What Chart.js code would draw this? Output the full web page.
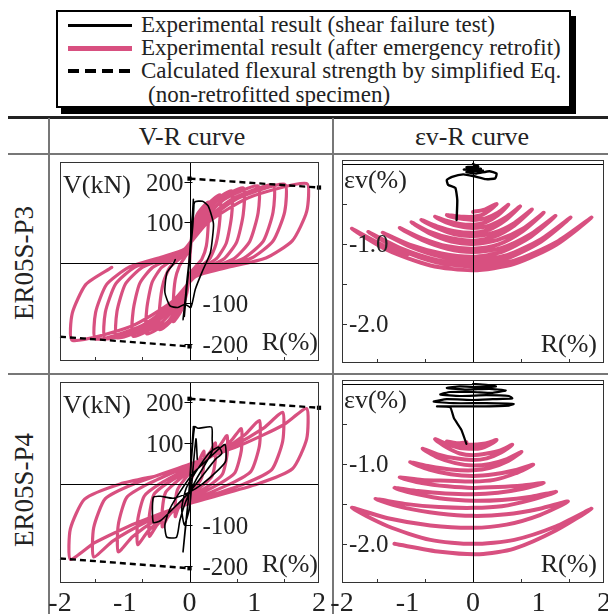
<!DOCTYPE html>
<html>
<head>
<meta charset="utf-8">
<script src="https://cdn.jsdelivr.net/npm/chart.js@4.4.1/dist/chart.umd.min.js"></script>
<style>
  body { margin: 0; background: #fff; }
  #fig { position: relative; width: 608px; height: 614px; overflow: hidden;
         font-family: "Liberation Serif", "Times New Roman", serif; color: #222; }
  .abs { position: absolute; }
  .legend-box { left: 56px; top: 10px; width: 515px; height: 98px; box-sizing: border-box;
                border: 2px solid #000; background: #fff; box-shadow: 5px 6px 0 #000; }
  .legend-text { font-size: 23px; line-height: 26px; white-space: nowrap; color: #222; }
  .hline { left: 8px; width: 600px; height: 1.5px; background: #777; }
  .vline { top: 118px; width: 1.5px; height: 496px; background: #777; }
  .head { font-size: 26px; line-height: 30px; white-space: nowrap; transform: translate(-50%, -50%); }
  .rowlab { font-size: 27px; line-height: 30px; white-space: nowrap;
            transform: translate(-50%, -50%) rotate(-90deg); }
  canvas { position: absolute; }
</style>
</head>
<body>
<div id="fig">
  <div class="abs legend-box"></div>
  <div class="abs" style="left:68px;top:24px;width:64px;height:3px;background:#000"></div>
  <div class="abs" style="left:68px;top:46px;width:64px;height:4.5px;background:#d85080"></div>
  <div class="abs" style="left:68px;top:69px;width:64px;height:4px;background:repeating-linear-gradient(to right,#000 0 11px,transparent 11px 17px)"></div>
  <div class="abs legend-text" style="left:141px;top:12px">Experimental result (shear failure test)</div>
  <div class="abs legend-text" style="left:141px;top:35px">Experimental result (after emergency retrofit)</div>
  <div class="abs legend-text" style="left:141px;top:58px">Calculated flexural strength by simplified Eq.</div>
  <div class="abs legend-text" style="left:148px;top:82px">(non-retrofitted specimen)</div>

  <div class="abs" style="left:8px;top:116px;width:600px;height:2.5px;background:#222"></div>
  <div class="abs hline" style="top:153px"></div>
  <div class="abs hline" style="top:373px"></div>
  <div class="abs vline" style="left:48px"></div>
  <div class="abs vline" style="left:332px"></div>

  <div class="abs head" style="left:192px;top:137px">V-R curve</div>
  <div class="abs head" style="left:472px;top:137px">εv-R curve</div>
  <div class="abs rowlab" style="left:24px;top:263px">ER05S-P3</div>
  <div class="abs rowlab" style="left:24px;top:490px">ER05S-P4</div>

  <canvas id="vrP3"></canvas>
  <canvas id="evP3"></canvas>
  <canvas id="vrP4"></canvas>
  <canvas id="evP4"></canvas>
</div>

<script>
// tick values and labels
const xTickLabels = [-2, -1, 0, 1, 2];
const xMinorTicks = [-1.46, -0.73, 0.73, 1.46];
const vTicks = [200, 100, -100, -200];
const evTicks = [-0.5, -1.0, -1.5, -2.0];
const evLabels = [-1.0, -2.0];

// calculated flexural strength (non-retrofitted), [R %, V kN]
const flexTopVR = [[0, 208], [2, 186]];
const flexBottomVR = [[-2, -182], [0, -206]];

// ER05S-P3, V-R: shear failure test
const p3ShearVR = [[0,0],[0.03,70],[0.06,157],[0.03,80],[-0.03,-40],[-0.08,-132],[-0.05,-60],[0.01,30],
  [0.07,150],[0.05,90],[-0.02,-30],[-0.10,-140],[-0.06,-80],[0.0,10],[0.04,110],[0.08,150],[0.2,152],
  [0.29,140],[0.37,97],[0.35,55],[0.32,24],[0.19,-24],[0.09,-65],[0.02,-110],[-0.07,-102],[-0.18,-110],
  [-0.3,-106],[-0.38,-73],[-0.35,-25],[-0.26,-5],[-0.22,8]];

// ER05S-P3, V-R: after emergency retrofit
const p3RetrofitVR = [
  [0,0],[0.04,75],[0.12,120],[0.29,150],
  [0.29,98],[0.26,42],[0.19,9],[0.09,-10],[0.01,-26],[-0.04,-73],[-0.13,-119],[-0.25,-145],
  [-0.25,-94],[-0.22,-41],[-0.16,-9],[-0.08,12],[-0.01,30],[0.07,84],[0.24,138],[0.47,168],
  [0.47,109],[0.41,47],[0.31,10],[0.14,-12],[0.02,-30],[-0.07,-83],[-0.23,-135],[-0.46,-165],
  [-0.46,-107],[-0.40,-46],[-0.30,-10],[-0.14,12],[-0.02,32],[0.10,89],[0.33,146],[0.65,178],
  [0.65,116],[0.57,50],[0.42,11],[0.20,-12],[0.03,-32],[-0.10,-88],[-0.33,-144],[-0.66,-175],
  [-0.66,-114],[-0.58,-49],[-0.43,-11],[-0.20,13],[-0.03,33],[0.12,93],[0.42,152],[0.83,185],
  [0.83,120],[0.73,52],[0.54,11],[0.25,-13],[0.04,-33],[-0.13,-91],[-0.44,-148],[-0.87,-181],
  [-0.87,-118],[-0.77,-51],[-0.57,-11],[-0.26,13],[-0.04,34],[0.16,95],[0.53,156],[1.06,190],
  [1.06,124],[0.93,53],[0.69,11],[0.32,-13],[0.05,-33],[-0.17,-93],[-0.56,-152],[-1.12,-185],
  [-1.12,-120],[-0.99,-52],[-0.73,-11],[-0.34,13],[-0.06,35],[0.19,96],[0.65,157],[1.29,192],
  [1.29,125],[1.14,54],[0.84,12],[0.39,-13],[0.06,-34],[-0.20,-94],[-0.65,-153],[-1.30,-187],
  [-1.30,-122],[-1.14,-52],[-0.85,-11],[-0.39,14],[-0.07,35],[0.22,97],[0.74,159],[1.47,194],
  [1.47,126],[1.29,54],[0.96,12],[0.44,-13],[0.07,-34],[-0.22,-94],[-0.73,-154],[-1.45,-188],
  [-1.45,-122],[-1.28,-53],[-0.94,-11],[-0.44,14],[-0.07,35],[0.27,98],[0.91,161],[1.81,196],
  [1.81,127],[1.59,55],[1.18,12],[0.54,-13],[0.09,-34],[-0.27,-96],[-0.91,-157],[-1.81,-191],
  [-1.81,-124],[-1.60,-53],[-1.20,-11]];

// ER05S-P4, V-R: shear failure test
const p4ShearVR = [[0,0],[0.03,70],[0.06,140],[0.03,60],[-0.03,-60],[-0.07,-120],[-0.10,-166],[-0.06,-100],
  [0,-10],[0.04,80],[0.08,140],[0.13,136],[0.34,139],[0.35,110],[0.35,80],[0.25,50],[0.1,10],[-0.05,-40],
  [-0.15,-90],[-0.2,-130],[-0.35,-130],[-0.38,-100],[-0.3,-60],[-0.15,-20],[0.05,25],[0.25,55],[0.45,85],
  [0.55,96],[0.56,56],[0.45,35],[0.2,0],[0,-20],[-0.25,-35],[-0.45,-30],[-0.56,-33],[-0.56,-94],[-0.45,-90],
  [-0.25,-60],[0,-20],[0.2,20],[0.4,60],[0.5,75],[0.45,90],[0.3,75],[0.1,30],[-0.05,-10],[-0.12,-60],
  [-0.08,-100],[0.0,-60],[0.05,30],[0.1,110],[0.12,60]];

// ER05S-P4, V-R: after emergency retrofit
const p4RetrofitVR = [
  [0,0],[0.1,40],[0.22,80],
  [0.22,48],[0.19,16],[0.13,0],[0,-21],[-0.10,-42],[-0.18,-62],[-0.22,-80],
  [-0.22,-48],[-0.19,-16],[-0.13,0],[0,26],[0.18,52],[0.32,78],[0.40,100],
  [0.40,60],[0.35,20],[0.23,0],[0,-27],[-0.19,-55],[-0.34,-82],[-0.42,-105],
  [-0.42,-63],[-0.37,-21],[-0.24,0],[0,31],[0.26,61],[0.46,92],[0.58,118],
  [0.58,71],[0.51,24],[0.34,0],[0,-33],[-0.28,-67],[-0.50,-100],[-0.62,-128],
  [-0.62,-77],[-0.55,-26],[-0.36,0],[0,35],[0.36,70],[0.64,105],[0.80,135],
  [0.80,81],[0.70,27],[0.46,0],[0,-38],[-0.36,-77],[-0.64,-115],[-0.80,-148],
  [-0.80,-89],[-0.70,-30],[-0.46,0],[0,40],[0.49,81],[0.86,121],[1.08,155],
  [1.08,93],[0.95,31],[0.63,0],[0,-43],[-0.50,-86],[-0.88,-129],[-1.10,-166],
  [-1.10,-100],[-0.97,-33],[-0.64,0],[0,46],[0.65,91],[1.15,137],[1.44,175],
  [1.44,105],[1.27,35],[0.84,0],[0,-46],[-0.67,-93],[-1.18,-139],[-1.48,-178],
  [-1.48,-107],[-1.30,-36],[-0.86,0],[0,48],[0.81,96],[1.45,144],[1.81,184],
  [1.81,110],[1.59,37],[1.05,0],[0,-48],[-0.83,-96],[-1.47,-144],[-1.84,-184],
  [-1.84,-110],[-1.62,-37],[-1.07,0],[-0.5,20]];

// ER05S-P3, εv-R: shear failure test
const p3ShearEv = [[0,0],[0.08,-0.03],[-0.1,-0.04],[0.12,-0.06],[-0.14,-0.07],[0.15,-0.08],[-0.1,-0.1],
  [0.05,-0.12],[0.25,-0.09],[0.36,-0.12],[0.34,-0.18],[0.2,-0.19],[0.0,-0.15],[-0.15,-0.13],[-0.32,-0.16],
  [-0.4,-0.2],[-0.38,-0.26],[-0.27,-0.3],[-0.24,-0.45],[-0.25,-0.7]];

// ER05S-P3, εv-R: after emergency retrofit
const p3RetrofitEv = [
  [0,-0.6],[0.18,-0.57],[0.36,-0.5],
  [0.25,-0.58],[0.13,-0.64],[0,-0.66],[-0.14,-0.66],[-0.28,-0.65],[-0.4,-0.64],
  [-0.28,-0.67],[-0.14,-0.69],[0,-0.7],[0.19,-0.68],[0.38,-0.61],[0.54,-0.51],
  [0.38,-0.64],[0.19,-0.73],[0,-0.76],[-0.2,-0.75],[-0.41,-0.71],[-0.58,-0.66],
  [-0.41,-0.73],[-0.2,-0.78],[0,-0.8],[0.25,-0.77],[0.5,-0.67],[0.72,-0.53],
  [0.5,-0.7],[0.25,-0.82],[0,-0.86],[-0.28,-0.84],[-0.55,-0.78],[-0.79,-0.7],
  [-0.55,-0.8],[-0.28,-0.88],[0,-0.9],[0.32,-0.86],[0.63,-0.74],[0.9,-0.57],
  [0.63,-0.77],[0.32,-0.91],[0,-0.96],[-0.33,-0.93],[-0.66,-0.85],[-0.94,-0.73],
  [-0.66,-0.87],[-0.33,-0.97],[0,-1.0],[0.38,-0.95],[0.76,-0.81],[1.08,-0.61],
  [0.76,-0.84],[0.38,-1.01],[0,-1.06],[-0.39,-1.03],[-0.78,-0.93],[-1.12,-0.8],
  [-0.78,-0.95],[-0.39,-1.06],[0,-1.1],[0.44,-1.05],[0.88,-0.88],[1.26,-0.65],
  [0.88,-0.91],[0.44,-1.1],[0,-1.16],[-0.48,-1.12],[-0.97,-1.01],[-1.38,-0.86],
  [-0.97,-1.03],[-0.48,-1.16],[0,-1.2],[0.52,-1.14],[1.04,-0.94],[1.49,-0.67],
  [1.04,-0.97],[0.52,-1.18],[0,-1.25],[-0.56,-1.2],[-1.12,-1.05],[-1.6,-0.85],
  [-1.12,-1.07],[-0.56,-1.23],[0,-1.28],[0.63,-1.21],[1.27,-0.98],[1.81,-0.67],
  [1.27,-1.01],[0.63,-1.25],[0,-1.33],[-0.65,-1.27],[-1.3,-1.08],[-1.85,-0.81],
  [-1.3,-1.05],[-1.0,-1.13]];

// ER05S-P4, εv-R: shear failure test
const p4ShearEv = [[0,0],[0.2,-0.01],[0.35,-0.03],[0.1,-0.04],[-0.2,-0.03],[-0.4,-0.05],[-0.1,-0.07],
  [0.25,-0.06],[0.5,-0.08],[0.3,-0.11],[0,-0.1],[-0.35,-0.1],[-0.5,-0.13],[-0.2,-0.15],[0.2,-0.14],
  [0.55,-0.15],[0.6,-0.18],[0.3,-0.19],[0,-0.2],[-0.4,-0.19],[-0.6,-0.22],[-0.3,-0.24],[0.2,-0.24],
  [0.62,-0.25],[0.55,-0.27],[0.1,-0.28],[-0.3,-0.28],[-0.55,-0.28],[-0.35,-0.29],[-0.29,-0.43],
  [-0.18,-0.57],[-0.1,-0.75]];

// ER05S-P4, εv-R: after emergency retrofit
const p4RetrofitEv = [
  [-0.1,-0.73],[-0.25,-0.74],[-0.4,-0.72],
  [-0.28,-0.74],[-0.14,-0.76],[0,-0.76],[0.13,-0.75],[0.25,-0.73],[0.36,-0.7],
  [0.25,-0.76],[0.13,-0.8],[0,-0.81],[-0.2,-0.8],[-0.41,-0.75],[-0.58,-0.69],
  [-0.41,-0.79],[-0.2,-0.87],[0,-0.89],[0.21,-0.87],[0.42,-0.83],[0.6,-0.76],
  [0.42,-0.86],[0.21,-0.93],[0,-0.95],[-0.27,-0.93],[-0.54,-0.88],[-0.77,-0.81],
  [-0.54,-0.92],[-0.27,-0.99],[0,-1.02],[0.26,-1.0],[0.52,-0.94],[0.74,-0.85],
  [0.52,-0.97],[0.26,-1.05],[0,-1.08],[-0.34,-1.07],[-0.67,-1.03],[-0.96,-0.98],
  [-0.67,-1.07],[-0.34,-1.13],[0,-1.15],[0.32,-1.13],[0.64,-1.08],[0.92,-1.01],
  [0.64,-1.12],[0.32,-1.2],[0,-1.22],[-0.39,-1.21],[-0.78,-1.2],[-1.12,-1.17],
  [-0.78,-1.24],[-0.39,-1.28],[0,-1.3],[0.38,-1.29],[0.76,-1.27],[1.08,-1.24],
  [0.76,-1.31],[0.38,-1.36],[0,-1.38],[-0.42,-1.37],[-0.84,-1.34],[-1.2,-1.3],
  [-0.84,-1.38],[-0.42,-1.44],[0,-1.46],[0.44,-1.45],[0.89,-1.41],[1.27,-1.35],
  [0.89,-1.45],[0.44,-1.53],[0,-1.55],[-0.52,-1.54],[-1.04,-1.5],[-1.49,-1.44],
  [-1.04,-1.55],[-0.52,-1.62],[0,-1.65],[0.51,-1.63],[1.02,-1.56],[1.45,-1.47],
  [1.02,-1.64],[0.51,-1.76],[0,-1.8],[-0.65,-1.77],[-1.3,-1.68],[-1.85,-1.55],
  [-1.3,-1.78],[-0.65,-1.95],[0,-2.0],[0.63,-1.95],[1.27,-1.78],[1.81,-1.56],
  [1.27,-1.83],[0.63,-2.06],[0.1,-2.13],[-0.5,-2.1],[-1.2,-2.0]];

const PINK = '#d85080';
const SERIF = '"Liberation Serif", "Times New Roman", serif';

const toXY = pts => pts.map(p => ({ x: p[0], y: p[1] }));

function curve(pts, color, width, tension, order) {
    return {
        data: toXY(pts), showLine: true, borderColor: color, borderWidth: width,
        tension: tension, pointRadius: 0, order: order, clip: 0,
        borderJoinStyle: 'round', borderCapStyle: 'round'
    };
}

function dashed(pts, radii) {
    return {
        data: toXY(pts), showLine: true, borderColor: '#000', borderWidth: 2.4,
        borderDash: [6, 4], tension: 0, pointStyle: 'rect', pointRadius: radii,
        pointBackgroundColor: '#000', pointBorderWidth: 0, order: 1, clip: 5
    };
}

// frame, axes, ticks and in-plot labels
function decor(cfg) {
    return {
        id: 'decor',
        afterDatasetsDraw(chart) {
            const { ctx, chartArea: a, scales: { x, y } } = chart;
            const line = (x1, y1, x2, y2) => {
                ctx.beginPath(); ctx.moveTo(x1, y1); ctx.lineTo(x2, y2); ctx.stroke();
            };
            const x0 = Math.round(x.getPixelForValue(0)) + 0.5;
            const y0 = Math.round(y.getPixelForValue(0)) + 0.5;
            ctx.save();
            ctx.lineWidth = 1;
            ctx.strokeStyle = '#000';
            line(x0, a.top, x0, a.bottom);
            line(a.left, y0, a.right, y0);
            ctx.strokeStyle = '#333';
            ctx.strokeRect(a.left + 0.5, a.top + 0.5, a.width - 1, a.height - 1);

            xMinorTicks.forEach(v => {
                const px = Math.round(x.getPixelForValue(v)) + 0.5;
                line(px, a.bottom, px, a.bottom - 4);
            });

            ctx.fillStyle = '#222';
            ctx.font = '25px ' + SERIF;
            ctx.textBaseline = 'alphabetic';
            if (cfg.kind === 'vr') {
                ctx.strokeStyle = '#000';
                vTicks.forEach(v => {
                    const py = Math.round(y.getPixelForValue(v)) + 0.5;
                    line(x0 - 6, py, x0 + 2, py);
                    ctx.textAlign = v > 0 ? 'right' : 'left';
                    ctx.fillText(String(v), v > 0 ? x0 - 7 : x0 + 12, py + 8);
                });
                ctx.font = '26px ' + SERIF;
                ctx.textAlign = 'left';
                ctx.fillText('V(kN)', a.left + 3, a.top + 31);
                ctx.textAlign = 'right';
                ctx.fillText('R(%)', a.right - 1, a.bottom - 11);
            } else {
                evTicks.forEach(v => {
                    const py = Math.round(y.getPixelForValue(v)) + 0.5;
                    line(a.left, py, a.left + 5, py);
                });
                ctx.textAlign = 'left';
                evLabels.forEach(v => {
                    ctx.fillText(v.toFixed(1), a.left + 7, y.getPixelForValue(v) + 8);
                });
                ctx.font = '26px ' + SERIF;
                ctx.fillText('εv(%)', a.left + 2, a.top + 28);
                ctx.textAlign = 'right';
                ctx.fillText('R(%)', a.right - 7, a.bottom - 11);
            }

            if (cfg.bottom) {
                ctx.font = '28px ' + SERIF;
                ctx.textAlign = 'center';
                xTickLabels.forEach(v => {
                    ctx.fillText(String(v), x.getPixelForValue(v), a.bottom + 28);
                });
            }
            ctx.restore();
        }
    };
}

function makePanel(id, frame, yRange, datasets, cfg) {
    const pad = { left: 16, right: 16, top: 2, bottom: cfg.bottom ? 32 : 2 };
    const canvas = document.getElementById(id);
    canvas.width = frame.w + pad.left + pad.right;
    canvas.height = frame.h + pad.top + pad.bottom;
    canvas.style.left = (frame.x - pad.left) + 'px';
    canvas.style.top = (frame.y - pad.top) + 'px';
    new Chart(canvas, {
        type: 'scatter',
        data: { datasets: datasets },
        options: {
            responsive: false,
            animation: false,
            events: [],
            layout: { padding: pad },
            plugins: { legend: { display: false }, tooltip: { enabled: false } },
            scales: {
                x: { type: 'linear', min: -2, max: 2, display: false },
                y: { type: 'linear', min: yRange[0], max: yRange[1], display: false }
            }
        },
        plugins: [decor(cfg)]
    });
}

const vRange = [-242, 249];
const evRange = [-2.49, 0.05];

makePanel('vrP3', { x: 60, y: 160, w: 259, h: 203 }, vRange, [
    curve(p3ShearVR, '#000', 1.6, 0.2, 0),
    dashed(flexTopVR, [3, 3]),
    dashed(flexBottomVR, [0, 3]),
    curve(p3RetrofitVR, PINK, 3.2, 0.2, 2)
], { kind: 'vr', bottom: false });

makePanel('evP3', { x: 342, y: 160, w: 262, h: 203 }, evRange, [
    curve(p3ShearEv, '#000', 2.4, 0.15, 0),
    curve(p3RetrofitEv, PINK, 4, 0.25, 2)
], { kind: 'ev', bottom: false });

makePanel('vrP4', { x: 60, y: 380, w: 259, h: 203 }, vRange, [
    curve(p4ShearVR, '#000', 1.6, 0.2, 0),
    dashed(flexTopVR, [3, 3]),
    dashed(flexBottomVR, [0, 3]),
    curve(p4RetrofitVR, PINK, 3.2, 0.2, 2)
], { kind: 'vr', bottom: true });

makePanel('evP4', { x: 342, y: 380, w: 262, h: 203 }, evRange, [
    curve(p4ShearEv, '#000', 2.2, 0.15, 0),
    curve(p4RetrofitEv, PINK, 4, 0.25, 2)
], { kind: 'ev', bottom: true });
</script>
</body>
</html>
